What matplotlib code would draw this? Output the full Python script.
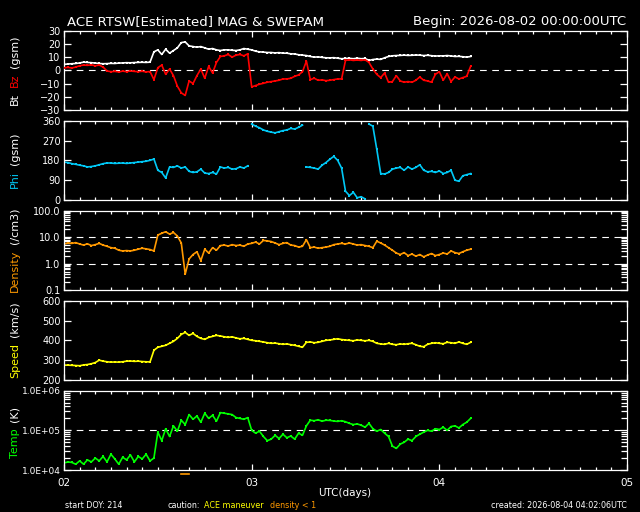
import matplotlib
matplotlib.use('Agg')
import matplotlib.pyplot as plt
import numpy as np
from matplotlib.ticker import MultipleLocator, FixedLocator, FuncFormatter, LogLocator, NullFormatter

# sampling grid: every 30 min from 2026-08-02 00:00 UTC (hours since start)
hours = np.arange(0, 52.5, 0.5)
days = 2 + hours / 24

bt = [4.5, 4.8, 5.0, 5.2, 5.6, 6.2, 6.0, 5.8, 5.5, 5.2, 5.0, 5.1, 5.3, 5.2, 5.5, 5.6,
      5.8, 5.7, 5.9, 6.0, 6.1, 6.0, 6.2, 14, 15.5, 12, 16, 13, 15, 17, 21, 21.5,
      18.5, 18, 17.5, 18, 17, 16, 16.5, 15.5, 15, 15.5, 15.5, 15.2, 15, 15.5, 16.5, 16,
      15.5, 14.5, 14, 13.8, 13.5, 13.5, 13.2, 13.4, 13, 13, 12.5, 12.4, 11.8, 11.5, 11.2, 10.5,
      10, 10.2, 9.8, 9.5, 9.4, 9.6, 9.2, 8.8, 9.0, 9.1, 8.8, 9.2, 8.8, 9.0, 7.5, 8.2,
      8.5, 8.3, 9.5, 10.5, 11, 11.2, 11.3, 11.5, 11.3, 11.4, 11.6, 11.5, 11.2, 11.4, 11.1, 10.8,
      11, 10.9, 11.2, 10.9, 10.5, 10.6, 10.3, 10.0, 10.5]

bz = [2.0, 2.2, 1.8, 2.5, 3.5, 4.0, 3.8, 4.2, 3.5, 4.0, 2.5, -0.5, -1.0, -0.8, -1.2, -0.6,
      -1.0, -0.5, -0.8, -1.0, -0.7, -1.2, -0.9, -7, 2, 4, -3, 1, -4, -12, -17, -19,
      -8, -10, -4, 1, -6, 3, -2, 6, 10.5, 11, 12, 10, 11.5, 12, 11, 12.5,
      -12.5, -11.5, -10.5, -9.8, -9, -8.5, -8, -7.5, -6.5, -6.5, -6, -4.5, -3.5, -1, 7, -7,
      -6, -7.5, -7.2, -7.8, -7.5, -7, -6.5, -6.5, 7.5, 8, 7.5, 7.8, 7.5, 8, 6, 1,
      -3, -5.5, -2, -9, -8.5, -4, -8, -9, -8.5, -9, -7.5, -5, -7.5, -8, -9, -3,
      -1, -7.5, -2.5, -8.5, -5, -6.5, -5.5, -4.5, 3]

phi = [172, 170, 165, 162, 158, 155, 150, 152, 155, 160, 165, 168, 168, 166, 167, 168,
       166, 168, 170, 172, 174, 176, 180, 186, 135, 125, 100, 150, 148, 155, 145, 150,
       130, 125, 128, 140, 122, 120, 125, 118, 150, 145, 148, 140, 142, 150, 145, 155,
       345, 335, 328, 318, 312, 308, 305, 310, 315, 318, 325, 322, 330, 340, 150, 148,
       145, 140, 158, 170, 185, 198, 180, 145, 40, 20, 35, 10, 15, 5, 345, 335,
       230, 120, 118, 125, 140, 145, 148, 135, 150, 140, 148, 160, 135, 128, 130, 125,
       132, 120, 125, 135, 90, 85, 110, 115, 120]

density = [5.5, 6.0, 5.8, 6.2, 5.5, 5.0, 5.6, 4.8, 5.2, 5.8, 5.0, 4.5, 4.0, 3.8, 3.2, 3.0,
           3.1, 3.0, 3.2, 3.5, 3.8, 3.6, 3.4, 3.0, 12, 14, 16, 13, 15, 11, 6, 0.4,
           1.5, 2.2, 2.8, 1.3, 3.5, 2.5, 4.0, 3.2, 4.8, 5.0, 4.6, 5.2, 4.8, 5.0, 4.5, 5.5,
           5.8, 6.5, 5.5, 7.5, 7.2, 6.8, 6.0, 5.2, 5.8, 6.2, 5.0, 4.8, 4.2, 4.5, 8.0, 4.0,
           4.2, 3.8, 4.0, 4.2, 4.5, 5.2, 5.5, 5.8, 5.5, 6.0, 5.5, 5.0, 5.2, 4.8, 4.5, 4.0,
           7.0, 6.0, 5.0, 4.0, 3.2, 2.5, 2.2, 2.6, 2.0, 2.3, 1.9, 2.2, 1.8, 2.1, 2.4, 2.0,
           2.2, 2.5, 2.3, 3.0, 2.6, 2.4, 2.8, 3.2, 3.5]

speed = [275, 275, 274, 273, 272, 276, 278, 282, 288, 300, 295, 292, 290, 291, 290, 292,
         295, 296, 294, 295, 293, 292, 291, 350, 365, 370, 375, 385, 395, 410, 430, 440,
         425, 435, 420, 410, 405, 415, 420, 425, 422, 418, 415, 418, 412, 408, 410, 405,
         400, 398, 395, 392, 388, 385, 386, 383, 380, 382, 378, 375, 370, 365, 390, 392,
         388, 390, 395, 400, 402, 405, 408, 404, 402, 400, 398, 402, 400, 398, 400, 395,
         385, 382, 380, 385, 380, 378, 382, 380, 383, 385, 378, 370, 368, 380, 385, 388,
         385, 383, 390, 388, 385, 392, 385, 380, 390]

temp = [15000, 16000, 15500, 14000, 17000, 14000, 18000, 16000, 20000, 17000, 22000, 16000,
        25000, 19000, 14000, 21000, 18000, 24000, 16000, 22000, 19000, 25000, 17000, 20000,
        90000, 55000, 110000, 70000, 130000, 95000, 180000, 140000, 250000, 190000, 230000, 160000,
        270000, 200000, 240000, 170000, 280000, 270000, 260000, 250000, 210000, 200000, 190000, 210000,
        100000, 85000, 95000, 70000, 55000, 60000, 75000, 62000, 80000, 65000, 72000, 60000,
        85000, 75000, 130000, 180000, 175000, 185000, 170000, 180000, 178000, 172000, 168000, 175000,
        165000, 150000, 140000, 145000, 135000, 120000, 150000, 110000, 95000, 105000, 85000, 70000,
        40000, 35000, 45000, 50000, 60000, 55000, 70000, 80000, 90000, 100000, 95000, 110000,
        105000, 120000, 100000, 125000, 130000, 115000, 140000, 160000, 200000]

W, H = 640, 512
fig = plt.figure(figsize=(W / 100, H / 100), dpi=100, facecolor='black')


def panel(i):
    top = 30.7 + 90 * i
    bot = 110 + 90 * i
    ax = fig.add_axes([64 / W, 1 - bot / H, 563 / W, (bot - top) / H], facecolor='black')
    for s in ax.spines.values():
        s.set_color('white')
        s.set_linewidth(0.9)
    ax.set_xlim(2, 5)
    ax.xaxis.set_major_locator(MultipleLocator(1))
    ax.xaxis.set_minor_locator(MultipleLocator(1 / 12))
    ax.tick_params(which='both', direction='in', colors='white', top=True, right=True,
                   labelsize=7, pad=2.5)
    ax.tick_params(axis='x', which='major', length=4, width=0.9)
    ax.tick_params(axis='x', which='minor', length=2.2, width=0.9)
    ax.tick_params(axis='y', which='major', length=5, width=0.9)
    ax.tick_params(axis='y', which='minor', length=4.5, width=0.9)
    if i < 4:
        ax.tick_params(axis='x', labelbottom=False)
    return ax


def dash(ax, y):
    ax.axhline(y, color='white', lw=0.8, linestyle=(0, (6, 5)), zorder=1)


def stacked_label(yc, parts, size=8):
    r = fig.canvas.get_renderer()
    txts = [fig.text(15 / W, 0, s, color=c, rotation=90, ha='center', va='bottom',
                     fontsize=size) for s, c in parts]
    gap = 6 / H
    hs = [t.get_window_extent(r).height / H for t in txts]
    y = yc - (sum(hs) + gap * (len(hs) - 1)) / 2
    for t, h in zip(txts, hs):
        t.set_y(y)
        y += h + gap


STYLE = dict(lw=1.2, marker='s', ms=1.8, mew=0)

# Bt / Bz
ax1 = panel(0)
ax1.set_ylim(-30, 30)
ax1.yaxis.set_major_locator(MultipleLocator(10))
dash(ax1, 0)
ax1.plot(days, bt, color='white', zorder=3, **STYLE)
ax1.plot(days, bz, color='#ff0000', zorder=4, **STYLE)

# Phi (split where the angle wraps)
ax2 = panel(1)
ax2.set_ylim(0, 360)
ax2.yaxis.set_major_locator(FixedLocator([0, 90, 180, 270, 360]))
phi_arr = np.array(phi, dtype=float)
cuts = np.where(np.abs(np.diff(phi_arr)) > 150)[0] + 1
for t_seg, p_seg in zip(np.split(days, cuts), np.split(phi_arr, cuts)):
    ax2.plot(t_seg, p_seg, color='#00c8f5', **STYLE)

# Density
ax3 = panel(2)
ax3.set_yscale('log')
ax3.set_ylim(0.1, 100)
ax3.yaxis.set_major_locator(FixedLocator([0.1, 1, 10, 100]))
ax3.yaxis.set_major_formatter(FuncFormatter(lambda v, p: f'{v:.1f}'))
ax3.yaxis.set_minor_locator(LogLocator(subs=np.arange(2, 10)))
ax3.yaxis.set_minor_formatter(NullFormatter())
dash(ax3, 1)
dash(ax3, 10)
ax3.plot(days, density, color='#ff9900', **STYLE)

# Speed
ax4 = panel(3)
ax4.set_ylim(200, 600)
ax4.yaxis.set_major_locator(MultipleLocator(100))
ax4.plot(days, speed, color='#ffff00', **STYLE)

# Temperature
ax5 = panel(4)
ax5.set_yscale('log')
ax5.set_ylim(1e4, 1e6)
ax5.yaxis.set_major_locator(FixedLocator([1e4, 1e5, 1e6]))
ax5.yaxis.set_major_formatter(FuncFormatter(lambda v, p: f'1.0E+0{int(round(np.log10(v)))}'))
ax5.yaxis.set_minor_locator(LogLocator(subs=np.arange(2, 10)))
ax5.yaxis.set_minor_formatter(NullFormatter())
ax5.tick_params(axis='y', labelsize=6.5)
dash(ax5, 1e5)
ax5.plot(days, temp, color='#00ff00', **STYLE)
ax5.xaxis.set_major_formatter(FuncFormatter(lambda v, p: f'{int(round(v)):02d}'))
ax5.tick_params(axis='x', which='major', pad=6, labelsize=7.5)

# density < 1 flags below the bottom panel
low = np.array(density) < 1
for d in days[low]:
    ax5.plot([d - 0.02, d + 0.02], [-0.05, -0.05], color='#ff9900', lw=1.2,
             transform=ax5.get_xaxis_transform(), clip_on=False)

# labels
stacked_label(1 - 70 / H, [('Bt', 'white'), ('Bz', '#ff0000'), ('(gsm)', 'white')])
stacked_label(1 - 160 / H, [('Phi', '#00c8f5'), ('(gsm)', 'white')])
stacked_label(1 - 250 / H, [('Density', '#ff9900'), ('(/cm3)', 'white')])
stacked_label(1 - 340 / H, [('Speed', '#ffff00'), ('(km/s)', 'white')])
stacked_label(1 - 432 / H, [('Temp', '#00ff00'), ('(K)', 'white')])

fig.text(67 / W, 1 - 25 / H, 'ACE RTSW[Estimated] MAG & SWEPAM', color='white',
         fontsize=9.5, va='baseline')
fig.text(626 / W, 1 - 25 / H, 'Begin: 2026-08-02 00:00:00UTC', color='white',
         fontsize=9.5, va='baseline', ha='right')
fig.text(345 / W, 1 - 493 / H, 'UTC(days)', color='white', fontsize=7.5,
         ha='center', va='center')
fig.text(65 / W, 1 - 505 / H, 'start DOY: 214', color='white', fontsize=5.8, va='center')
fig.text(168 / W, 1 - 505 / H, 'caution:', color='white', fontsize=5.8, va='center')
fig.text(204 / W, 1 - 505 / H, 'ACE maneuver', color='#ffff00', fontsize=5.8, va='center')
fig.text(270 / W, 1 - 505 / H, 'density < 1', color='#ff9900', fontsize=5.8, va='center')
fig.text(627 / W, 1 - 505 / H, 'created: 2026-08-04 04:02:06UTC', color='white',
         fontsize=5.8, va='center', ha='right')

fig.savefig('out.png', dpi=100, facecolor='black')
